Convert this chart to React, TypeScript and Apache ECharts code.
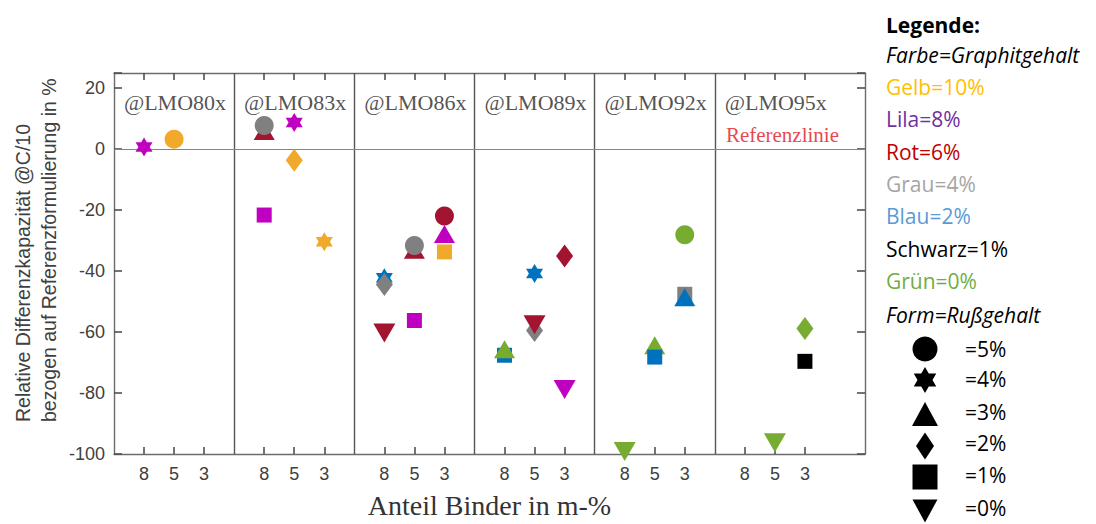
import React, { useEffect, useRef } from "react";
import * as echarts from "echarts";

// ---------- data ----------
const panels = ["@LMO80x", "@LMO83x", "@LMO86x", "@LMO89x", "@LMO92x", "@LMO95x"];
const binderLabels = ["8", "5", "3"];

// [colour (graphite), binder tick, soot %, relative difference %]  (listed back to front)
type Pt = [string, string, number, number];
const lmo80: Pt[] = [
  ["Lila", "8", 4, 0.7],
  ["Gelb", "5", 5, 3.3],
];
const lmo83: Pt[] = [
  ["Rot", "8", 3, 6],
  ["Grau", "8", 5, 7.8],
  ["Lila", "5", 4, 8.8],
  ["Gelb", "5", 2, -3.6],
  ["Lila", "8", 1, -21.6],
  ["Gelb", "3", 4, -30.4],
];
const lmo86: Pt[] = [
  ["Blau", "8", 4, -42.2],
  ["Grau", "8", 2, -44.4],
  ["Rot", "8", 0, -60.3],
  ["Rot", "5", 3, -33],
  ["Grau", "5", 5, -31.6],
  ["Lila", "5", 1, -56.2],
  ["Gelb", "3", 1, -33.7],
  ["Lila", "3", 3, -27.8],
  ["Rot", "3", 5, -21.9],
];
const lmo89: Pt[] = [
  ["Blau", "8", 1, -67.6],
  ["Grün", "8", 3, -65.6],
  ["Blau", "5", 4, -40.8],
  ["Grau", "5", 2, -59.5],
  ["Rot", "5", 0, -57.6],
  ["Rot", "3", 2, -35],
  ["Lila", "3", 0, -78.8],
];
const lmo92: Pt[] = [
  ["Grün", "8", 0, -99.2],
  ["Grün", "5", 3, -64.3],
  ["Blau", "5", 1, -68.2],
  ["Grau", "3", 1, -47.6],
  ["Blau", "3", 3, -48.6],
  ["Grün", "3", 5, -28.1],
];
const lmo95: Pt[] = [
  ["Grün", "5", 0, -96.3],
  ["Schwarz", "3", 1, -69.6],
  ["Grün", "3", 2, -58.8],
];
const panelPoints = [lmo80, lmo83, lmo86, lmo89, lmo92, lmo95];

const legendColorLines: [string, string][] = [
  ["Gelb=10%", "#FFC000"],
  ["Lila=8%", "#7030A0"],
  ["Rot=6%", "#C00000"],
  ["Grau=4%", "#A5A5A5"],
  ["Blau=2%", "#5B9BD5"],
  ["Schwarz=1%", "#000000"],
  ["Grün=0%", "#70AD47"],
];
const legendShapeLines: [number, string][] = [
  [5, "=5%"],
  [4, "=4%"],
  [3, "=3%"],
  [2, "=2%"],
  [1, "=1%"],
  [0, "=0%"],
];

// ---------- styles ----------
const markerColors: Record<string, string> = {
  Gelb: "#F0A92A",
  Lila: "#C000C0",
  Rot: "#A2142F",
  Grau: "#808080",
  Blau: "#0072BD",
  Schwarz: "#000000",
  Grün: "#77AC30",
};
const STAR =
  "path://M0,-100 L28.87,-50 L86.6,-50 L57.7,0 L86.6,50 L28.87,50 L0,100 L-28.87,50 L-86.6,50 L-57.7,0 L-86.6,-50 L-28.87,-50 Z";
const shapeStyle: Record<number, { symbol: string; size: number[]; rotate: number }> = {
  5: { symbol: "circle", size: [19, 19], rotate: 0 },
  4: { symbol: STAR, size: [17, 19], rotate: 0 },
  3: { symbol: "triangle", size: [21, 18], rotate: 0 },
  2: { symbol: "diamond", size: [17, 23], rotate: 0 },
  1: { symbol: "rect", size: [15, 15], rotate: 0 },
  0: { symbol: "triangle", size: [22, 19], rotate: 180 },
};

const AXIS = "#6b6b6b";
const TICK = "#505050";
const TXT = "#404040";
const SANS = "'Liberation Sans', Arial, sans-serif";
const SERIF = "'Liberation Serif', 'Times New Roman', serif";
const LEG = "'Open Sans', 'Noto Sans', sans-serif";
const LEG_SIZE = 21;

function hexagram(cx: number, cy: number, r: number): number[][] {
  const pts: number[][] = [];
  for (let k = 0; k < 12; k++) {
    const a = (-90 + k * 30) * (Math.PI / 180);
    const rr = k % 2 === 0 ? r : r / Math.sqrt(3);
    pts.push([cx + rr * Math.cos(a), cy + rr * Math.sin(a)]);
  }
  return pts;
}

function legendSymbol(soot: number, cx: number, cy: number): any {
  const fill = { fill: "#000" };
  switch (soot) {
    case 5:
      return { type: "circle", shape: { cx, cy, r: 12.5 }, style: fill };
    case 4:
      return { type: "polygon", shape: { points: hexagram(cx, cy, 13) }, style: fill };
    case 3:
      return { type: "polygon", shape: { points: [[cx, cy - 12], [cx + 13, cy + 12], [cx - 13, cy + 12]] }, style: fill };
    case 2:
      return { type: "polygon", shape: { points: [[cx, cy - 13.5], [cx + 9, cy], [cx, cy + 13.5], [cx - 9, cy]] }, style: fill };
    case 1:
      return { type: "rect", shape: { x: cx - 12.5, y: cy - 12.5, width: 25, height: 25 }, style: fill };
    default:
      return { type: "polygon", shape: { points: [[cx - 12.5, cy - 11.5], [cx + 12.5, cy - 11.5], [cx, cy + 11.5]] }, style: fill };
  }
}

export default function App() {
  const ref = useRef<HTMLDivElement>(null);

  useEffect(() => {
    document.body.style.margin = "0";
    if (!ref.current) return;
    const chart = echarts.init(ref.current, null, { renderer: "svg" });

    const tickPositions: number[] = [];
    panels.forEach((_, p) => binderLabels.forEach((_, i) => tickPositions.push(p * 4 + i + 1)));
    const dividers = panels.slice(1).map((_, i) => (i + 1) * 4);

    const points: any[] = [];
    panelPoints.forEach((arr, p) => {
      arr.forEach(([color, binder, soot, val]) => {
        const s = shapeStyle[soot];
        points.push({
          value: [p * 4 + binderLabels.indexOf(binder) + 1, val],
          symbol: s.symbol,
          symbolSize: s.size,
          symbolRotate: s.rotate,
          itemStyle: { color: markerColors[color], opacity: 1 },
        });
      });
    });

    const titleData = panels.map((name, p) => ({ value: [p * 4 + 0.33, 15.4], name }));

    const graphic: any[] = [];
    // y-axis name (two lines, rotated)
    graphic.push({
      type: "text",
      x: 10,
      y: 422,
      rotation: Math.PI / 2,
      style: {
        text: "Relative Differenzkapazität @C/10\nbezogen auf Referenzformulierung in %",
        fontFamily: SANS,
        fontSize: 19.5,
        lineHeight: 26,
        fill: TXT,
        align: "left",
        verticalAlign: "top",
      },
    });
    // legend
    const lx = 886;
    graphic.push({
      type: "text",
      x: lx,
      y: 25,
      style: { text: "Legende:", fontFamily: LEG, fontWeight: "bold", fontSize: LEG_SIZE, fill: "#000", verticalAlign: "middle" },
    });
    graphic.push({
      type: "text",
      x: lx,
      y: 55,
      style: { text: "Farbe=Graphitgehalt", fontFamily: LEG, fontStyle: "italic", fontSize: LEG_SIZE, fill: "#000", verticalAlign: "middle" },
    });
    legendColorLines.forEach(([t, c], i) => {
      graphic.push({
        type: "text",
        x: lx,
        y: 87 + i * 32.3,
        style: { text: t, fontFamily: LEG, fontSize: LEG_SIZE, fill: c, verticalAlign: "middle" },
      });
    });
    graphic.push({
      type: "text",
      x: lx,
      y: 315,
      style: { text: "Form=Rußgehalt", fontFamily: LEG, fontStyle: "italic", fontSize: LEG_SIZE, fill: "#000", verticalAlign: "middle" },
    });
    const symY = [349, 380, 414, 446, 477, 511];
    const txtY = [349, 379, 412, 443, 475, 508];
    legendShapeLines.forEach(([soot, t], i) => {
      graphic.push(legendSymbol(soot, 925, symY[i]));
      graphic.push({
        type: "text",
        x: 965,
        y: txtY[i],
        style: { text: t, fontFamily: LEG, fontSize: LEG_SIZE, fill: "#000", verticalAlign: "middle" },
      });
    });

    const axisLine = { show: true, onZero: false, lineStyle: { color: AXIS, width: 1.4 } };
    const tickStyle = { color: TICK, width: 1.6 };

    chart.setOption({
      animation: false,
      backgroundColor: "#ffffff",
      grid: { left: 114, top: 73, right: 231, bottom: 69 },
      xAxis: [
        {
          type: "value",
          min: 0,
          max: 25,
          position: "bottom",
          axisLine,
          axisTick: { show: true, inside: true, length: 7, customValues: tickPositions, lineStyle: tickStyle },
          axisLabel: {
            customValues: tickPositions,
            formatter: (v: number) => binderLabels[(Math.round(v) % 4) - 1] ?? "",
            color: TXT,
            fontFamily: SANS,
            fontSize: 18,
            margin: 11,
          },
          splitLine: { show: false },
          name: "Anteil Binder in m-%",
          nameLocation: "middle",
          nameGap: 37,
          nameTextStyle: { fontFamily: SERIF, fontSize: 28, color: "#333" },
        },
        {
          type: "value",
          min: 0,
          max: 25,
          position: "top",
          axisLine,
          axisTick: { show: true, inside: true, length: 7, customValues: tickPositions, lineStyle: tickStyle },
          axisLabel: { show: false },
          splitLine: { show: false },
        },
      ],
      yAxis: [
        {
          type: "value",
          min: -100,
          max: 25,
          interval: 20,
          position: "left",
          axisLine,
          axisTick: { show: true, inside: true, length: 8, lineStyle: tickStyle },
          axisLabel: {
            formatter: (v: number) => (v > 20 ? "" : String(v)),
            color: TXT,
            fontFamily: SANS,
            fontSize: 18,
            margin: 9,
          },
          splitLine: { show: false },
        },
        {
          type: "value",
          min: -100,
          max: 25,
          interval: 20,
          position: "right",
          axisLine,
          axisTick: { show: true, inside: true, length: 8, lineStyle: tickStyle },
          axisLabel: { show: false },
          splitLine: { show: false },
        },
      ],
      series: [
        {
          type: "scatter",
          name: "lines",
          z: 1,
          data: [],
          silent: true,
          markLine: {
            silent: true,
            symbol: ["none", "none"],
            label: { show: false },
            animation: false,
            data: [
              ...dividers.map((d) => ({ xAxis: d, lineStyle: { color: "#555555", width: 1.4, type: "solid" } })),
              { yAxis: 0, lineStyle: { color: "#E35D5D", width: 1.2, type: "solid" } },
            ],
          },
        },
        {
          type: "scatter",
          name: "titles",
          z: 2,
          silent: true,
          symbolSize: 0,
          data: titleData,
          label: {
            show: true,
            position: [0, 0],
            align: "left",
            verticalAlign: "middle",
            formatter: (p: any) => p.name,
            fontFamily: SERIF,
            fontSize: 22,
            color: "#262626",
          },
        },
        {
          type: "scatter",
          name: "reference",
          z: 2,
          silent: true,
          symbolSize: 0,
          data: [{ value: [20.37, 4.6], name: "Referenzlinie" }],
          label: {
            show: true,
            position: [0, 0],
            align: "left",
            verticalAlign: "middle",
            formatter: (p: any) => p.name,
            fontFamily: SERIF,
            fontSize: 21,
            color: "#E3121A",
          },
        },
        {
          type: "scatter",
          name: "points",
          z: 5,
          clip: false,
          itemStyle: { opacity: 1 },
          data: points,
        },
      ],
      graphic,
    });

    return () => chart.dispose();
  }, []);

  return <div ref={ref} style={{ width: 1096, height: 524 }} />;
}
